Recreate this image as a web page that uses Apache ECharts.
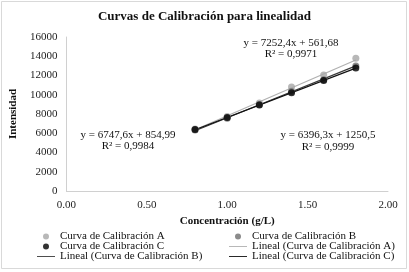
<!DOCTYPE html>
<html><head><meta charset="utf-8">
<script src="https://cdn.jsdelivr.net/npm/echarts@6/dist/echarts.min.js"></script>
<style>html,body{margin:0;padding:0;background:#fff}#c{width:409px;height:272px}</style>
</head><body><div id="c"></div>
<script>
var xValues = [0.8, 1.0, 1.2, 1.4, 1.6, 1.8];
var curveA = [6450, 7750, 9150, 10800, 12050, 13800];
var curveB = [6350, 7550, 9000, 10350, 11550, 13000];
var curveC = [6380, 7640, 8930, 10210, 11480, 12780];
var slopes = [7252.4, 6747.6, 6396.3];
var intercepts = [561.68, 854.99, 1250.5];
var equationTexts = [
  ['y = 7252,4x + 561,68', 'R² = 0,9971'],
  ['y = 6747,6x + 854,99', 'R² = 0,9984'],
  ['y = 6396,3x + 1250,5', 'R² = 0,9999']
];
var xTicks = ['0.00', '0.50', '1.00', '1.50', '2.00'];
var seriesNames = ['Curva de Calibración A', 'Curva de Calibración B', 'Curva de Calibración C',
  'Lineal (Curva de Calibración A)', 'Lineal (Curva de Calibración B)', 'Lineal (Curva de Calibración C)'];

var font = 'Liberation Serif';
var pointColors = ['#a6a6a6', '#6e6e6e', '#000000'];
var lineColors = ['#b0b0b0', '#3a3a3a', '#111111'];
var lineIcon = 'path://M0,0L20,0L20,1L0,1Z';

function pts(arr) { return xValues.map(function (x, i) { return [x, arr[i]]; }); }
function trend(k) {
  var x0 = xValues[0], x1 = xValues[xValues.length - 1];
  return [[x0, slopes[k] * x0 + intercepts[k]], [x1, slopes[k] * x1 + intercepts[k]]];
}

var series = [];
[curveA, curveB, curveC].forEach(function (arr, k) {
  series.push({
    name: seriesNames[k], type: 'scatter', data: pts(arr), symbolSize: 7,
    itemStyle: { color: pointColors[k] }, z: 3
  });
});
[0, 1, 2].forEach(function (k) {
  series.push({
    name: seriesNames[3 + k], type: 'line', data: trend(k), symbol: 'none', showSymbol: false,
    lineStyle: { color: lineColors[k], width: 1.2 }, itemStyle: { color: lineColors[k] }, z: 2
  });
});

var chart = echarts.init(document.getElementById('c'), null, { renderer: 'canvas' });
var legendText = { fontFamily: font, fontSize: 11, color: '#111' };
chart.setOption({
  backgroundColor: '#fff',
  animation: false,
  title: {
    text: 'Curvas de Calibración para linealidad', left: 'center', top: 5,
    textStyle: { fontFamily: font, fontSize: 13, fontWeight: 'bold', color: '#111' }
  },
  grid: { left: 65, right: 21, top: 37, bottom: 81 },
  xAxis: {
    type: 'value', min: 0, max: 2, interval: 0.5,
    name: 'Concentración (g/L)', nameLocation: 'middle', nameGap: 25,
    nameTextStyle: { fontFamily: font, fontSize: 11, fontWeight: 'bold', color: '#111' },
    axisLine: { show: true, lineStyle: { color: '#d0d0d0' } },
    axisTick: { show: false }, splitLine: { show: false },
    axisLabel: {
      fontFamily: font, fontSize: 11, color: '#222', margin: 9,
      formatter: function (v) { return xTicks[Math.round(v / 0.5)]; }
    }
  },
  yAxis: {
    type: 'value', min: 0, max: 16000, interval: 2000,
    name: 'Intensidad', nameLocation: 'middle', nameGap: 42, nameRotate: 90,
    nameTextStyle: { fontFamily: font, fontSize: 11, fontWeight: 'bold', color: '#111' },
    axisLine: { show: true, lineStyle: { color: '#d0d0d0' } },
    axisTick: { show: false }, splitLine: { show: false },
    axisLabel: { fontFamily: font, fontSize: 11, color: '#222', margin: 9,
      formatter: function (v) { return String(v); } }
  },
  legend: [
    {
      orient: 'vertical', left: 32, top: 226, itemGap: -1, itemWidth: 18, itemHeight: 6,
      textStyle: legendText, selectedMode: false,
      data: [
        { name: seriesNames[0], icon: 'circle' },
        { name: seriesNames[2], icon: 'circle' },
        { name: seriesNames[4], icon: lineIcon }
      ]
    },
    {
      orient: 'vertical', left: 224, top: 226, itemGap: -1, itemWidth: 18, itemHeight: 6,
      textStyle: legendText, selectedMode: false,
      data: [
        { name: seriesNames[1], icon: 'circle' },
        { name: seriesNames[3], icon: lineIcon },
        { name: seriesNames[5], icon: lineIcon }
      ]
    }
  ],
  graphic: [
    { type: 'rect', shape: { x: 1.5, y: 1.5, width: 405, height: 267 }, style: { fill: 'none', stroke: '#d9d9d9', lineWidth: 1 }, silent: true },
    { type: 'text', x: 291, y: 43, style: { text: equationTexts[0][0], fontFamily: font, fontSize: 11, fill: '#111', align: 'center', verticalAlign: 'middle' } },
    { type: 'text', x: 291, y: 54, style: { text: equationTexts[0][1], fontFamily: font, fontSize: 11, fill: '#111', align: 'center', verticalAlign: 'middle' } },
    { type: 'text', x: 128, y: 135, style: { text: equationTexts[1][0], fontFamily: font, fontSize: 11, fill: '#111', align: 'center', verticalAlign: 'middle' } },
    { type: 'text', x: 128, y: 146, style: { text: equationTexts[1][1], fontFamily: font, fontSize: 11, fill: '#111', align: 'center', verticalAlign: 'middle' } },
    { type: 'text', x: 328, y: 135, style: { text: equationTexts[2][0], fontFamily: font, fontSize: 11, fill: '#111', align: 'center', verticalAlign: 'middle' } },
    { type: 'text', x: 328, y: 147, style: { text: equationTexts[2][1], fontFamily: font, fontSize: 11, fill: '#111', align: 'center', verticalAlign: 'middle' } }
  ],
  series: series
});
</script></body></html>
